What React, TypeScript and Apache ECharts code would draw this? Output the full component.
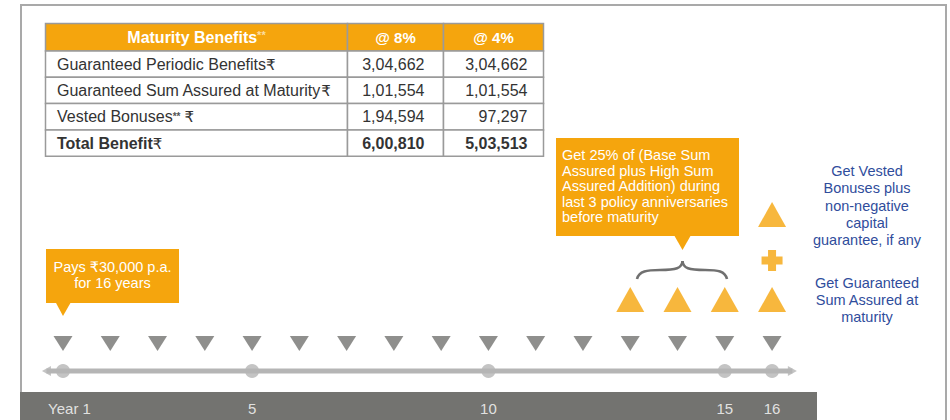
import React, { useEffect, useRef } from "react";
import * as echarts from "echarts";

// ---------- data ----------
const policyYears = [1, 2, 3, 4, 5, 6, 7, 8, 9, 10, 11, 12, 13, 14, 15, 16];
const markedYears = [1, 5, 10, 15, 16];
const yearLabels = ["Year 1", "5", "10", "15", "16"];
const survivalBenefitYears = [13, 14, 15, 16];
const vestedBonusYears = [16];
const timelineRange = [0.65, 16.43];

const tableHeaders = ["Maturity Benefits", "@ 8%", "@ 4%"];
const benefitLabels = [
  "Guaranteed Periodic Benefits",
  "Guaranteed Sum Assured at Maturity",
  "Vested Bonuses",
  "Total Benefit",
];
const benefitNotes = ["", "", "**", ""];
const benefitsAt8 = ["3,04,662", "1,01,554", "1,94,594", "6,00,810"];
const benefitsAt4 = ["3,04,662", "1,01,554", "97,297", "5,03,513"];

const premiumNote = ["Pays \u20B930,000 p.a.", "for 16 years"];
const survivalNote = [
  "Get 25% of (Base Sum",
  "Assured plus High Sum",
  "Assured Addition) during",
  "last 3 policy anniversaries",
  "before maturity",
];
const vestedNote = ["Get Vested", "Bonuses plus", "non-negative", "capital", "guarantee, if any"];
const sumAssuredNote = ["Get Guaranteed", "Sum Assured at", "maturity"];

// ---------- layout / style ----------
const W = 950;
const H = 420;
const STEP = 47.27;
const YEAR1_PX = 63;
const ORANGE = "#F5A50D";
const MARK_GRAY = "#737370";
const LINE_GRAY = "#b5b5b5";
const BLUE = "#2f4d9c";
const TEXT = "#333333";
const FONT = '"Liberation Sans", Arial, "DejaVu Sans", "Noto Sans", sans-serif';

const Y_LINE = 371;
const Y_PAY = 343.5;
const Y_BONUS = 299.5;
const Y_PLUS = 260.5;
const Y_VESTED = 214.5;
const Y_LABEL = 408;

const colX = [45.5, 347.5, 443.5, 543.5];
const rowY = [23.5, 51, 77.3, 103.6, 130, 156.3];

function txt(text: string, x: number, y: number, o: any = {}) {
  return {
    type: "text",
    silent: true,
    z: 10,
    style: {
      text,
      x,
      y,
      fill: o.fill || "#fff",
      fontSize: o.fontSize || 14.5,
      fontFamily: FONT,
      fontWeight: o.fontWeight || "normal",
      align: o.align || "center",
      verticalAlign: "middle",
      textAlign: o.align || "center",
      textVerticalAlign: "middle",
      rich: o.rich,
    },
  };
}

function buildTable(): any[] {
  const els: any[] = [];
  for (let c = 0; c < 3; c++) {
    els.push({
      type: "rect",
      silent: true,
      z: 5,
      shape: { x: colX[c], y: rowY[0], width: colX[c + 1] - colX[c], height: rowY[1] - rowY[0] },
      style: { fill: ORANGE, stroke: "#9a9a9a", lineWidth: 1.5 },
    });
  }
  const hy = (rowY[0] + rowY[1]) / 2;
  els.push(
    txt(`{h|${tableHeaders[0]}}{s|**}`, (colX[0] + colX[1]) / 2, hy, {
      rich: {
        h: { fontSize: 16, fontWeight: "bold", fill: "#fff", fontFamily: FONT },
        s: { fontSize: 11, fontWeight: "bold", fill: "#fbdca0", fontFamily: FONT, verticalAlign: "top" },
      },
    })
  );
  els.push(txt(tableHeaders[1], (colX[1] + colX[2]) / 2, hy, { fontSize: 15, fontWeight: "bold" }));
  els.push(txt(tableHeaders[2], (colX[2] + colX[3]) / 2, hy, { fontSize: 15, fontWeight: "bold" }));

  benefitLabels.forEach((label, i) => {
    const y0 = rowY[i + 1];
    const y1 = rowY[i + 2];
    const cy = (y0 + y1) / 2;
    const bold = i === benefitLabels.length - 1;
    for (let c = 0; c < 3; c++) {
      els.push({
        type: "rect",
        silent: true,
        z: 5,
        shape: { x: colX[c], y: y0, width: colX[c + 1] - colX[c], height: y1 - y0 },
        style: { fill: "#fff", stroke: "#9a9a9a", lineWidth: 1.5 },
      });
    }
    const note = benefitNotes[i];
    const rich = {
      t: { fontSize: 16, fontWeight: bold ? "bold" : "normal", fill: TEXT, fontFamily: FONT },
      s: { fontSize: 10, fontWeight: "bold", fill: "#555", fontFamily: FONT },
      r: { fontSize: 15, fill: TEXT, fontFamily: FONT },
    };
    const str = `{t|${label}}` + (note ? `{s|${note}}{r| \u20B9}` : `{r|\u20B9}`);
    els.push(txt(str, 57, cy, { align: "left", rich }));
    els.push(
      txt(benefitsAt8[i], 424.5, cy, { align: "right", fill: TEXT, fontSize: 16, fontWeight: bold ? "bold" : "normal" })
    );
    els.push(
      txt(benefitsAt4[i], 527.5, cy, { align: "right", fill: TEXT, fontSize: 16, fontWeight: bold ? "bold" : "normal" })
    );
  });
  return els;
}

function buildAnnotations(): any[] {
  const els: any[] = [];
  els.push({
    type: "rect",
    silent: true,
    z: 0,
    shape: { x: 21, y: 5, width: 925, height: 440 },
    style: { fill: "#fff", stroke: "#a9a9a9", lineWidth: 2 },
  });
  els.push({
    type: "rect",
    silent: true,
    z: 1,
    shape: { x: 20, y: 392, width: 797, height: 30 },
    style: { fill: MARK_GRAY },
  });
  els.push({
    type: "rect",
    silent: true,
    z: 5,
    shape: { x: 46, y: 249, width: 133, height: 54 },
    style: { fill: ORANGE },
  });
  els.push({
    type: "polygon",
    silent: true,
    z: 5,
    shape: { points: [[55.5, 302], [71, 302], [63, 316]] },
    style: { fill: ORANGE },
  });
  premiumNote.forEach((l, i) => els.push(txt(l, 112.5, 267 + i * 16)));

  els.push({
    type: "rect",
    silent: true,
    z: 5,
    shape: { x: 556, y: 138, width: 183, height: 98 },
    style: { fill: ORANGE },
  });
  els.push({
    type: "polygon",
    silent: true,
    z: 5,
    shape: { points: [[674, 235], [691, 235], [682.5, 250]] },
    style: { fill: ORANGE },
  });
  survivalNote.forEach((l, i) => els.push(txt(l, 562, 155 + i * 15.5, { align: "left" })));

  const braceStyle = { stroke: "#707070", lineWidth: 2.6, fill: null as any };
  const curves = [
    { x1: 637, y1: 279, cpx1: 639, cpy1: 271, cpx2: 647, cpy2: 270, x2: 660, y2: 270 },
    { x1: 660, y1: 270, cpx1: 676, cpy1: 270, cpx2: 682, cpy2: 268.5, x2: 682.5, y2: 261 },
    { x1: 682.5, y1: 261, cpx1: 683, cpy1: 268.5, cpx2: 689, cpy2: 270, x2: 705, y2: 270 },
    { x1: 705, y1: 270, cpx1: 718, cpy1: 270, cpx2: 725, cpy2: 271, x2: 727, y2: 279 },
  ];
  curves.forEach((s) =>
    els.push({ type: "bezierCurve", silent: true, z: 5, shape: s, style: braceStyle })
  );

  vestedNote.forEach((l, i) => els.push(txt(l, 867, 171 + i * 17.3, { fill: BLUE })));
  sumAssuredNote.forEach((l, i) => els.push(txt(l, 867, 283 + i * 17, { fill: BLUE })));
  return els;
}

export default function App() {
  const ref = useRef<HTMLDivElement>(null);
  useEffect(() => {
    if (!ref.current) return;
    const chart = echarts.init(ref.current, undefined, { renderer: "svg", width: W, height: H });
    const xMin = 1 - YEAR1_PX / STEP;
    const xMax = 1 + (W - YEAR1_PX) / STEP;
    const plusPath = "path://M6.5,0H14.5V6.5H21V14.5H14.5V21H6.5V14.5H0V6.5H6.5Z";
    chart.setOption({
      animation: false,
      grid: { left: 0, right: 0, top: 0, bottom: 0 },
      xAxis: { type: "value", min: xMin, max: xMax, show: false },
      yAxis: { type: "value", min: 0, max: H, inverse: true, show: false },
      graphic: { elements: [...buildAnnotations(), ...buildTable()] },
      series: [
        {
          type: "line",
          silent: true,
          z: 3,
          symbol: "none",
          lineStyle: { color: LINE_GRAY, width: 5 },
          data: [
            [timelineRange[0], Y_LINE],
            [timelineRange[1], Y_LINE],
          ],
        },
        {
          type: "scatter",
          silent: true,
          z: 3,
          symbol: "triangle",
          symbolSize: [10, 9],
          itemStyle: { color: LINE_GRAY },
          data: [
            { value: [timelineRange[0], Y_LINE], symbolRotate: 90 },
            { value: [timelineRange[1], Y_LINE], symbolRotate: -90 },
          ],
        },
        {
          type: "scatter",
          silent: true,
          z: 4,
          symbol: "circle",
          symbolSize: 14,
          itemStyle: { color: LINE_GRAY },
          data: markedYears.map((y) => [y, Y_LINE]),
        },
        {
          type: "scatter",
          silent: true,
          z: 4,
          symbol: "triangle",
          symbolSize: [19, 15],
          symbolRotate: 180,
          itemStyle: { color: MARK_GRAY },
          data: policyYears.map((y) => [y, Y_PAY]),
        },
        {
          type: "scatter",
          silent: true,
          z: 4,
          symbol: "triangle",
          symbolSize: [28, 25],
          itemStyle: { color: ORANGE },
          data: survivalBenefitYears.map((y) => [y, Y_BONUS]),
        },
        {
          type: "scatter",
          silent: true,
          z: 4,
          symbol: "triangle",
          symbolSize: [28, 25],
          itemStyle: { color: ORANGE },
          data: vestedBonusYears.map((y) => [y, Y_VESTED]),
        },
        {
          type: "scatter",
          silent: true,
          z: 4,
          symbol: plusPath,
          symbolSize: 21,
          itemStyle: { color: ORANGE },
          data: vestedBonusYears.map((y) => [y, Y_PLUS]),
        },
        {
          type: "scatter",
          silent: true,
          z: 6,
          symbolSize: 0,
          itemStyle: { color: "transparent" },
          label: {
            show: true,
            position: "inside",
            color: "#fff",
            fontSize: 15,
            fontFamily: FONT,
            formatter: (p: any) => yearLabels[p.dataIndex],
          },
          data: markedYears.map((y, i) =>
            i === 0 ? { value: [y, Y_LABEL], label: { offset: [6.5, 0] } } : { value: [y, Y_LABEL] }
          ),
        },
      ],
    });
    return () => chart.dispose();
  }, []);
  return (
    <div
      ref={ref}
      style={{ position: "absolute", left: 0, top: 0, width: W, height: H, background: "#fff" }}
    />
  );
}
